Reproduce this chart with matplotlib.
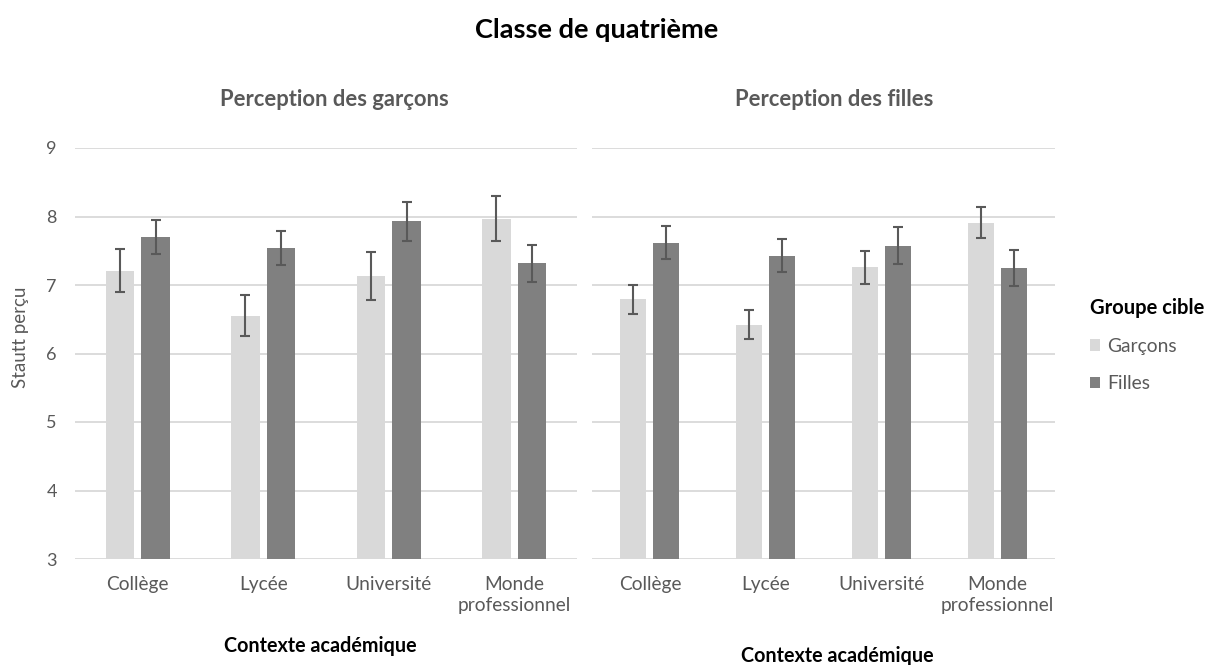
import numpy as np
import matplotlib.pyplot as plt

# données
categories = ["Collège", "Lycée", "Université", "Monde\nprofessionnel"]
groupes = ["Garçons", "Filles"]

# Perception des garçons
pg_garcons = [7.21, 6.55, 7.13, 7.97]
pg_garcons_err = [0.31, 0.30, 0.35, 0.33]
pg_filles = [7.70, 7.54, 7.93, 7.32]
pg_filles_err = [0.25, 0.245, 0.285, 0.27]

# Perception des filles
pf_garcons = [6.79, 6.42, 7.26, 7.91]
pf_garcons_err = [0.215, 0.21, 0.24, 0.23]
pf_filles = [7.62, 7.43, 7.57, 7.25]
pf_filles_err = [0.24, 0.235, 0.27, 0.265]

panel_titles = ["Perception des garçons", "Perception des filles"]
yticks = [3, 4, 5, 6, 7, 8, 9]

c_garcons = "#D9D9D9"
c_filles = "#808080"
c_text = "#595959"
c_grid = "#D9D9D9"

plt.rcParams['font.family'] = ['Lato', 'DejaVu Sans']

W, H = 1206, 665
fig = plt.figure(figsize=(W/100, H/100), dpi=100)
ax1 = fig.add_axes([75/W, 1-559/H, 502/W, 411/H])
ax2 = fig.add_axes([592/W, 1-559/H, 463/W, 411/H], sharey=ax1)

x = np.arange(len(categories))
w = 0.225
off = 0.142

panels = [
    (ax1, pg_garcons, pg_garcons_err, pg_filles, pg_filles_err),
    (ax2, pf_garcons, pf_garcons_err, pf_filles, pf_filles_err),
]

for ax, g, ge, f, fe in panels:
    ax.bar(x - off, g, w, color=c_garcons, zorder=2, label=groupes[0])
    ax.bar(x + off, f, w, color=c_filles, zorder=2, label=groupes[1])
    ekw = dict(fmt='none', ecolor=c_text, elinewidth=1.5, capsize=3.8, capthick=1.5, zorder=3)
    ax.errorbar(x - off, g, yerr=ge, **ekw)
    ax.errorbar(x + off, f, yerr=fe, **ekw)
    ax.set_ylim(3, 9)
    ax.set_xlim(-0.5, len(categories) - 0.5)
    ax.set_yticks(yticks)
    ax.grid(axis='y', color=c_grid, linewidth=1.3, zorder=0)
    ax.set_axisbelow(True)
    for s in ax.spines.values():
        s.set_visible(False)
    ax.set_xticks(x)
    ax.set_xticklabels(categories, fontsize=13.8, color=c_text, linespacing=1.3)
    ax.tick_params(axis='x', length=0, pad=12)
    ax.tick_params(axis='y', length=0, pad=13, labelsize=13, labelcolor=c_text)

ax2.tick_params(axis='y', labelleft=False)

# titres
fig.text(597/W, 1-30/H, "Classe de quatrième", ha='center', va='center',
         fontsize=19.5, fontweight='bold', color='black')
fig.text(334/W, 1-100/H, panel_titles[0], ha='center', va='center',
         fontsize=15.8, fontweight='bold', color=c_text)
fig.text(834/W, 1-100/H, panel_titles[1], ha='center', va='center',
         fontsize=15.8, fontweight='bold', color=c_text)
fig.text(21/W, 1-337/H, "Stautt perçu", rotation=90, ha='center', va='center',
         fontsize=13.5, color=c_text)
fig.text(320/W, 1-646/H, "Contexte académique", ha='center', va='center',
         fontsize=14.2, fontweight='bold', color='black')
fig.text(837/W, 1-656/H, "Contexte académique", ha='center', va='center',
         fontsize=14.2, fontweight='bold', color='black')

# légende
handles, labels = ax1.get_legend_handles_labels()
leg = fig.legend(handles, labels, loc='upper left', bbox_to_anchor=(1080/W, 1-288/H),
                 frameon=False, title="Groupe cible", fontsize=13.9, borderpad=0,
                 handlelength=0.55, handleheight=0.55, handletextpad=0.35,
                 labelspacing=1.05, labelcolor=c_text)
leg.get_title().set_fontweight('bold')
leg.get_title().set_fontsize(14.5)
leg._legend_box.align = 'left'

fig.savefig("out.png", dpi=100)
